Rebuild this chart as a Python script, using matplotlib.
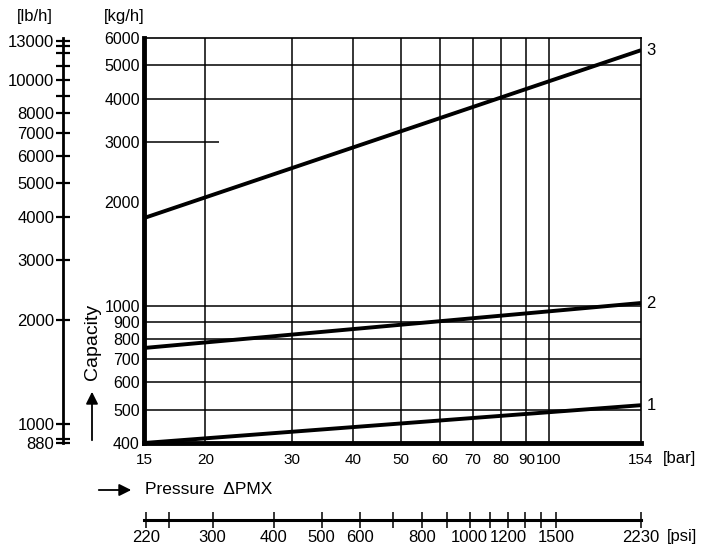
import matplotlib.pyplot as plt
from matplotlib.ticker import FixedLocator, NullFormatter, NullLocator

plt.rcParams['font.family'] = ['Liberation Sans', 'DejaVu Sans']

# capacity lines (kg/h) at 15 and 154 bar
pressure_bar = [15, 154]
line1 = [400, 515]
line2 = [755, 1020]
line3 = [1800, 5530]
curves = [line1, line2, line3]
curve_labels = ['1', '2', '3']

kg_ticks = [400, 500, 600, 700, 800, 900, 1000, 2000, 3000, 4000, 5000, 6000]
kg_grid = [500, 600, 700, 800, 900, 1000, 4000, 5000]
bar_ticks = [15, 20, 30, 40, 50, 60, 70, 80, 90, 100, 154]
bar_grid = [20, 30, 40, 50, 60, 70, 80, 90, 100]

lb_ticks = [880, 1000, 2000, 3000, 4000, 5000, 6000, 7000, 8000, 10000, 13000]
lb_minor = [900, 9000, 11000, 12000, 12500]
psi_ticks = [220, 300, 400, 500, 600, 800, 1000, 1200, 1500, 2230]
psi_minor = [245, 700, 900, 1100, 1300, 1400]

KG_TO_LB = 2.20462
BAR_TO_PSI = 14.5038

W, H = 702, 545
fig = plt.figure(figsize=(W / 100, H / 100), dpi=100)

def fx(px):
    return px / W

def fy(py):
    return 1 - py / H

left, right, top, bottom = 144, 641, 38, 443
ax = fig.add_axes([fx(left), fy(bottom), fx(right - left), (bottom - top) / H])
ax.set_xscale('log')
ax.set_yscale('log')
ax.set_xlim(15, 154)
ax.set_ylim(400, 6000)

for v in kg_grid:
    ax.axhline(v, color='black', lw=1.1, zorder=1)
ax.hlines(3000, 15, 21.3, color='black', lw=1.1, zorder=1)
for v in bar_grid:
    ax.axvline(v, color='black', lw=1.1, zorder=1)

for vals, lab in zip(curves, curve_labels):
    ax.plot(pressure_bar, vals, color='black', lw=2.8, solid_capstyle='butt', zorder=3)
    ax.annotate(lab, xy=(pressure_bar[-1], vals[-1]), xytext=(4, 0),
                textcoords='offset points', ha='left', va='center', fontsize=12)

ax.xaxis.set_major_locator(FixedLocator(bar_ticks))
ax.xaxis.set_minor_locator(NullLocator())
ax.set_xticklabels([str(v) for v in bar_ticks])
ax.yaxis.set_major_locator(FixedLocator(kg_ticks))
ax.yaxis.set_minor_locator(NullLocator())
ax.set_yticklabels([str(v) for v in kg_ticks])
ax.tick_params(axis='x', length=0, pad=7, labelsize=11)
ax.tick_params(axis='y', length=0, pad=3, labelsize=11.5)
ax.tick_params(which='minor', length=0)

ax.spines['left'].set_linewidth(3.5)
ax.spines['bottom'].set_linewidth(3.5)
ax.spines['top'].set_linewidth(1.2)
ax.spines['right'].set_linewidth(1.2)

fig.text(fx(680), fy(459), '[bar]', ha='center', va='center', fontsize=12)
fig.text(fx(124), fy(17), '[kg/h]', ha='center', va='center', fontsize=12)
fig.text(fx(35), fy(17), '[lb/h]', ha='center', va='center', fontsize=12)

# lb/h axis
axl = fig.add_axes([fx(63), fy(bottom), 0.0001, (bottom - top) / H])
axl.set_yscale('log')
axl.set_ylim(879, 6000 * KG_TO_LB)
for s in ['top', 'right', 'bottom']:
    axl.spines[s].set_visible(False)
axl.spines['left'].set_linewidth(2)
axl.set_xticks([])
axl.yaxis.set_major_locator(FixedLocator(lb_ticks))
axl.yaxis.set_minor_locator(FixedLocator(lb_minor))
axl.yaxis.set_minor_formatter(NullFormatter())
axl.set_yticklabels([str(v) for v in lb_ticks])
axl.tick_params(axis='y', which='both', direction='inout', length=9.5, width=1.6,
                pad=1.5, labelsize=12)

# Capacity label with arrow
fig.text(fx(92), fy(342), 'Capacity', rotation=90, ha='center', va='center', fontsize=14)
fig.add_artist(plt.Annotation('', xy=(fx(92), fy(389)), xytext=(fx(92), fy(443)),
                              xycoords='figure fraction', textcoords='figure fraction',
                              arrowprops=dict(arrowstyle='-|>', color='black', lw=1.3,
                                              mutation_scale=18)))

# Pressure label with arrow
fig.text(fx(145), fy(490), 'Pressure  \u0394PMX', ha='left', va='center', fontsize=12.5)
fig.add_artist(plt.Annotation('', xy=(fx(134), fy(490)), xytext=(fx(96), fy(490)),
                              xycoords='figure fraction', textcoords='figure fraction',
                              arrowprops=dict(arrowstyle='-|>', color='black', lw=1.3,
                                              mutation_scale=18)))

# psi axis
axp = fig.add_axes([fx(left), fy(520), fx(right - left), 0.0001])
axp.set_xscale('log')
axp.set_xlim(15 * BAR_TO_PSI, 154 * BAR_TO_PSI)
for s in ['top', 'right', 'left']:
    axp.spines[s].set_visible(False)
axp.spines['bottom'].set_linewidth(2.2)
axp.set_yticks([])
axp.xaxis.set_major_locator(FixedLocator(psi_ticks))
axp.xaxis.set_minor_locator(FixedLocator(psi_minor))
axp.xaxis.set_minor_formatter(NullFormatter())
axp.set_xticklabels([str(v) for v in psi_ticks])
axp.tick_params(axis='x', which='both', direction='inout', length=11, width=1.1,
                pad=2, labelsize=12)
fig.text(fx(682), fy(537), '[psi]', ha='center', va='center', fontsize=12)

fig.savefig('out.png', dpi=100)
